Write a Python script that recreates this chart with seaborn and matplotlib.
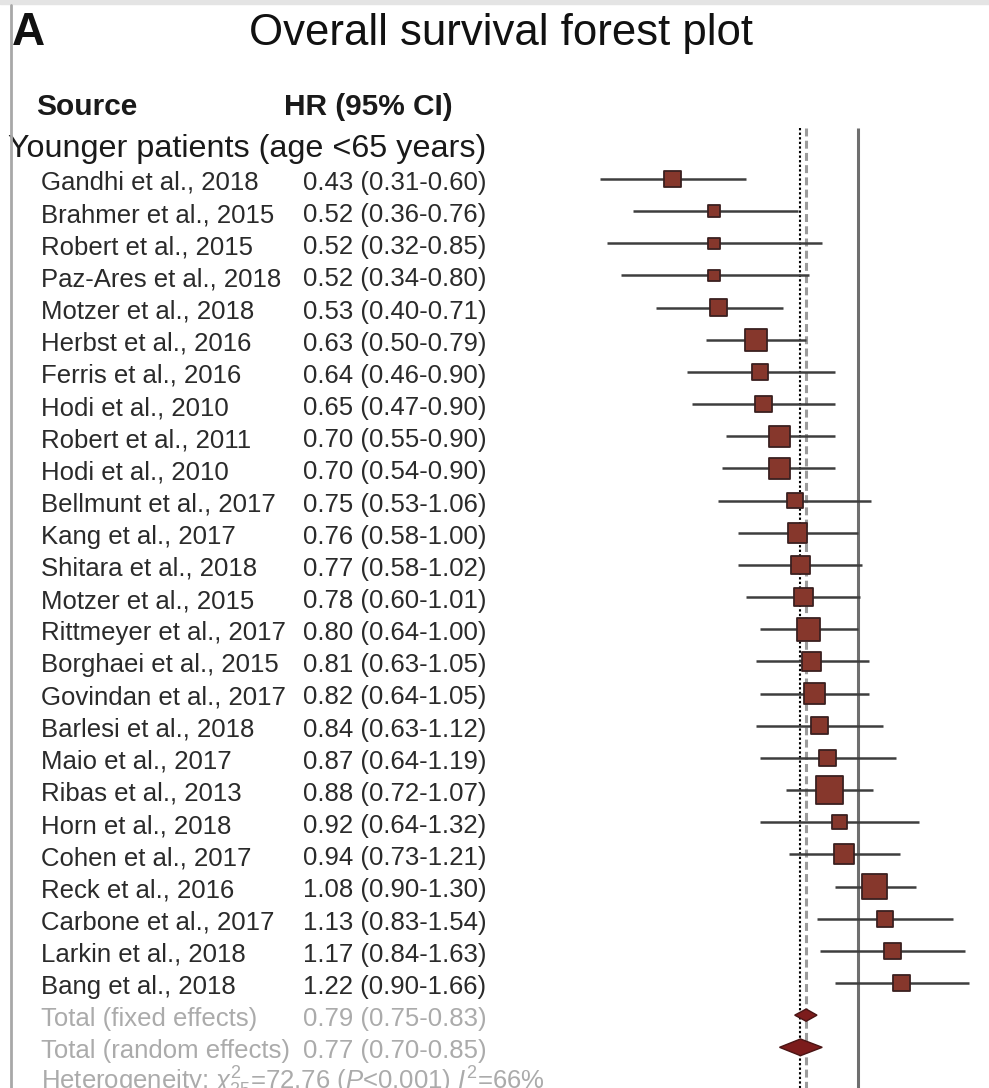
import numpy as np
import pandas as pd
import matplotlib
matplotlib.use("Agg")
import matplotlib.pyplot as plt
import seaborn as sns
from matplotlib.lines import Line2D
from matplotlib.patches import Rectangle

# ---- data -------------------------------------------------------------
studies = [
    "Gandhi et al., 2018", "Brahmer et al., 2015", "Robert et al., 2015",
    "Paz-Ares et al., 2018", "Motzer et al., 2018", "Herbst et al., 2016",
    "Ferris et al., 2016", "Hodi et al., 2010", "Robert et al., 2011",
    "Hodi et al., 2010", "Bellmunt et al., 2017", "Kang et al., 2017",
    "Shitara et al., 2018", "Motzer et al., 2015", "Rittmeyer et al., 2017",
    "Borghaei et al., 2015", "Govindan et al., 2017", "Barlesi et al., 2018",
    "Maio et al., 2017", "Ribas et al., 2013", "Horn et al., 2018",
    "Cohen et al., 2017", "Reck et al., 2016", "Carbone et al., 2017",
    "Larkin et al., 2018", "Bang et al., 2018",
]
hr = [0.43, 0.52, 0.52, 0.52, 0.53, 0.63, 0.64, 0.65, 0.70, 0.70, 0.75, 0.76,
      0.77, 0.78, 0.80, 0.81, 0.82, 0.84, 0.87, 0.88, 0.92, 0.94, 1.08, 1.13,
      1.17, 1.22]
ci_low = [0.31, 0.36, 0.32, 0.34, 0.40, 0.50, 0.46, 0.47, 0.55, 0.54, 0.53,
          0.58, 0.58, 0.60, 0.64, 0.63, 0.64, 0.63, 0.64, 0.72, 0.64, 0.73,
          0.90, 0.83, 0.84, 0.90]
ci_high = [0.60, 0.76, 0.85, 0.80, 0.71, 0.79, 0.90, 0.90, 0.90, 0.90, 1.06,
           1.00, 1.02, 1.01, 1.00, 1.05, 1.05, 1.12, 1.19, 1.07, 1.32, 1.21,
           1.30, 1.54, 1.63, 1.66]
weights = [3.1, 1.8, 1.5, 1.5, 3.1, 5.4, 3.1, 3.1, 4.9, 4.9, 2.8, 4.4, 4.0,
           4.0, 5.9, 4.0, 4.9, 3.1, 3.1, 8.3, 2.4, 4.4, 7.1, 2.8, 3.1, 3.1]

pooled_labels = ["Total (fixed effects)", "Total (random effects)"]
pooled_hr = [0.79, 0.77]
pooled_low = [0.75, 0.70]
pooled_high = [0.83, 0.85]

group_label = "Younger patients (age <65 years)"
heterogeneity = r"Heterogeneity: $\chi^2_{25}$=72.76 ($P$<0.001) $I^2$=66%"

# ---- style ------------------------------------------------------------
sns.set_style("white")
plt.rcParams["font.family"] = ["Liberation Sans", "DejaVu Sans"]
plt.rcParams["mathtext.fontset"] = "custom"
plt.rcParams["mathtext.rm"] = "Liberation Sans"
plt.rcParams["mathtext.it"] = "Liberation Sans:italic"
plt.rcParams["mathtext.bf"] = "Liberation Sans:bold"

df = pd.DataFrame({
    "study": studies, "hr": hr, "lo": ci_low, "hi": ci_high,
    "weight": weights, "row": np.arange(len(studies)),
})
n = len(df)

fig = plt.figure(figsize=(9.89, 10.88), dpi=100)
ax = fig.add_axes([0, 0, 1, 1])
ax.set_xscale("log")

# reference lines: no effect, random and fixed pooled estimates
y_top, y_bot = -1.59, n + 3
ax.vlines(1.0, y_top, y_bot, color="#6f6f6f", lw=2.2, zorder=1)
ax.vlines(pooled_hr[1], y_top, y_bot, color="black", lw=1.5,
          linestyles=[(0, (1.1, 1.1))], zorder=1)
ax.vlines(pooled_hr[0], y_top, y_bot, color="#9c9c9c", lw=2.2,
          linestyles=[(0, (2.6, 1.4))], zorder=1)

# confidence intervals and weighted study squares
ax.hlines(df["row"], df["lo"], df["hi"], color="#3e3e3e", lw=1.8, zorder=2)
sns.scatterplot(data=df, x="hr", y="row", size="weight", sizes=(0, 460),
                size_norm=(0, 10), marker="s", color="#86372c",
                edgecolor="#3a2020", linewidth=1.3, legend=False, ax=ax,
                zorder=3)

# pooled diamonds
half_heights = [0.19, 0.26]
for k in range(2):
    r = n + k
    est, lo, hi, h = pooled_hr[k], pooled_low[k], pooled_high[k], half_heights[k]
    ax.fill([lo, est, hi, est], [r, r - h, r, r + h], facecolor="#7c1c1c",
            edgecolor="#4a1414", lw=1.0, zorder=4)

ax.set_xlim(np.exp(-3.9), np.exp(0.5955))
ax.set_ylim(28.265, -5.566)
ax.axis("off")

# ---- text columns -----------------------------------------------------
tr = ax.get_yaxis_transform()
fs = 18.5
for _, row in df.iterrows():
    y = row["row"] + 0.34
    ax.text(0.041, y, row["study"], transform=tr, fontsize=fs,
            color="#2a2a2a", va="baseline", ha="left")
    ax.text(0.306, y, f"{row['hr']:.2f} ({row['lo']:.2f}-{row['hi']:.2f})",
            transform=tr, fontsize=fs, color="#2a2a2a", va="baseline",
            ha="left")

gray = "#ababab"
for k in range(2):
    y = n + k + 0.34
    ax.text(0.041, y, pooled_labels[k], transform=tr, fontsize=fs,
            color=gray, va="baseline")
    ax.text(0.306, y, f"{pooled_hr[k]:.2f} ({pooled_low[k]:.2f}-{pooled_high[k]:.2f})",
            transform=tr, fontsize=fs, color=gray, va="baseline")
ax.text(0.041, n + 2 + 0.30, heterogeneity, transform=tr, fontsize=fs,
        color=gray, va="baseline")

ax.text(0.008, -0.68, group_label, transform=tr, fontsize=23.3,
        color="#1a1a1a", va="baseline")
ax.text(0.037, -1.99, "Source", transform=tr, fontsize=21.5,
        fontweight="bold", color="#1a1a1a", va="baseline")
ax.text(0.287, -1.99, "HR (95% CI)", transform=tr, fontsize=21.5,
        fontweight="bold", color="#1a1a1a", va="baseline")

ax.text(0.507, -4.167, "Overall survival forest plot", transform=tr,
        fontsize=31.5, color="#111111", va="baseline", ha="center")
ax.text(0.012, -4.167, "A", transform=tr, fontsize=33, fontweight="bold",
        color="#111111", va="baseline")

# panel frame
fig.patches.append(Rectangle((0, 1 - 4 / 1088), 1, 4 / 1088,
                             transform=fig.transFigure, color="#e4e4e4"))
fig.lines.append(Line2D([11 / 989, 11 / 989], [0, 1 - 5 / 1088],
                        transform=fig.transFigure, color="#a8a8a8", lw=2.0))

fig.savefig("out.png", dpi=100, facecolor="white")
